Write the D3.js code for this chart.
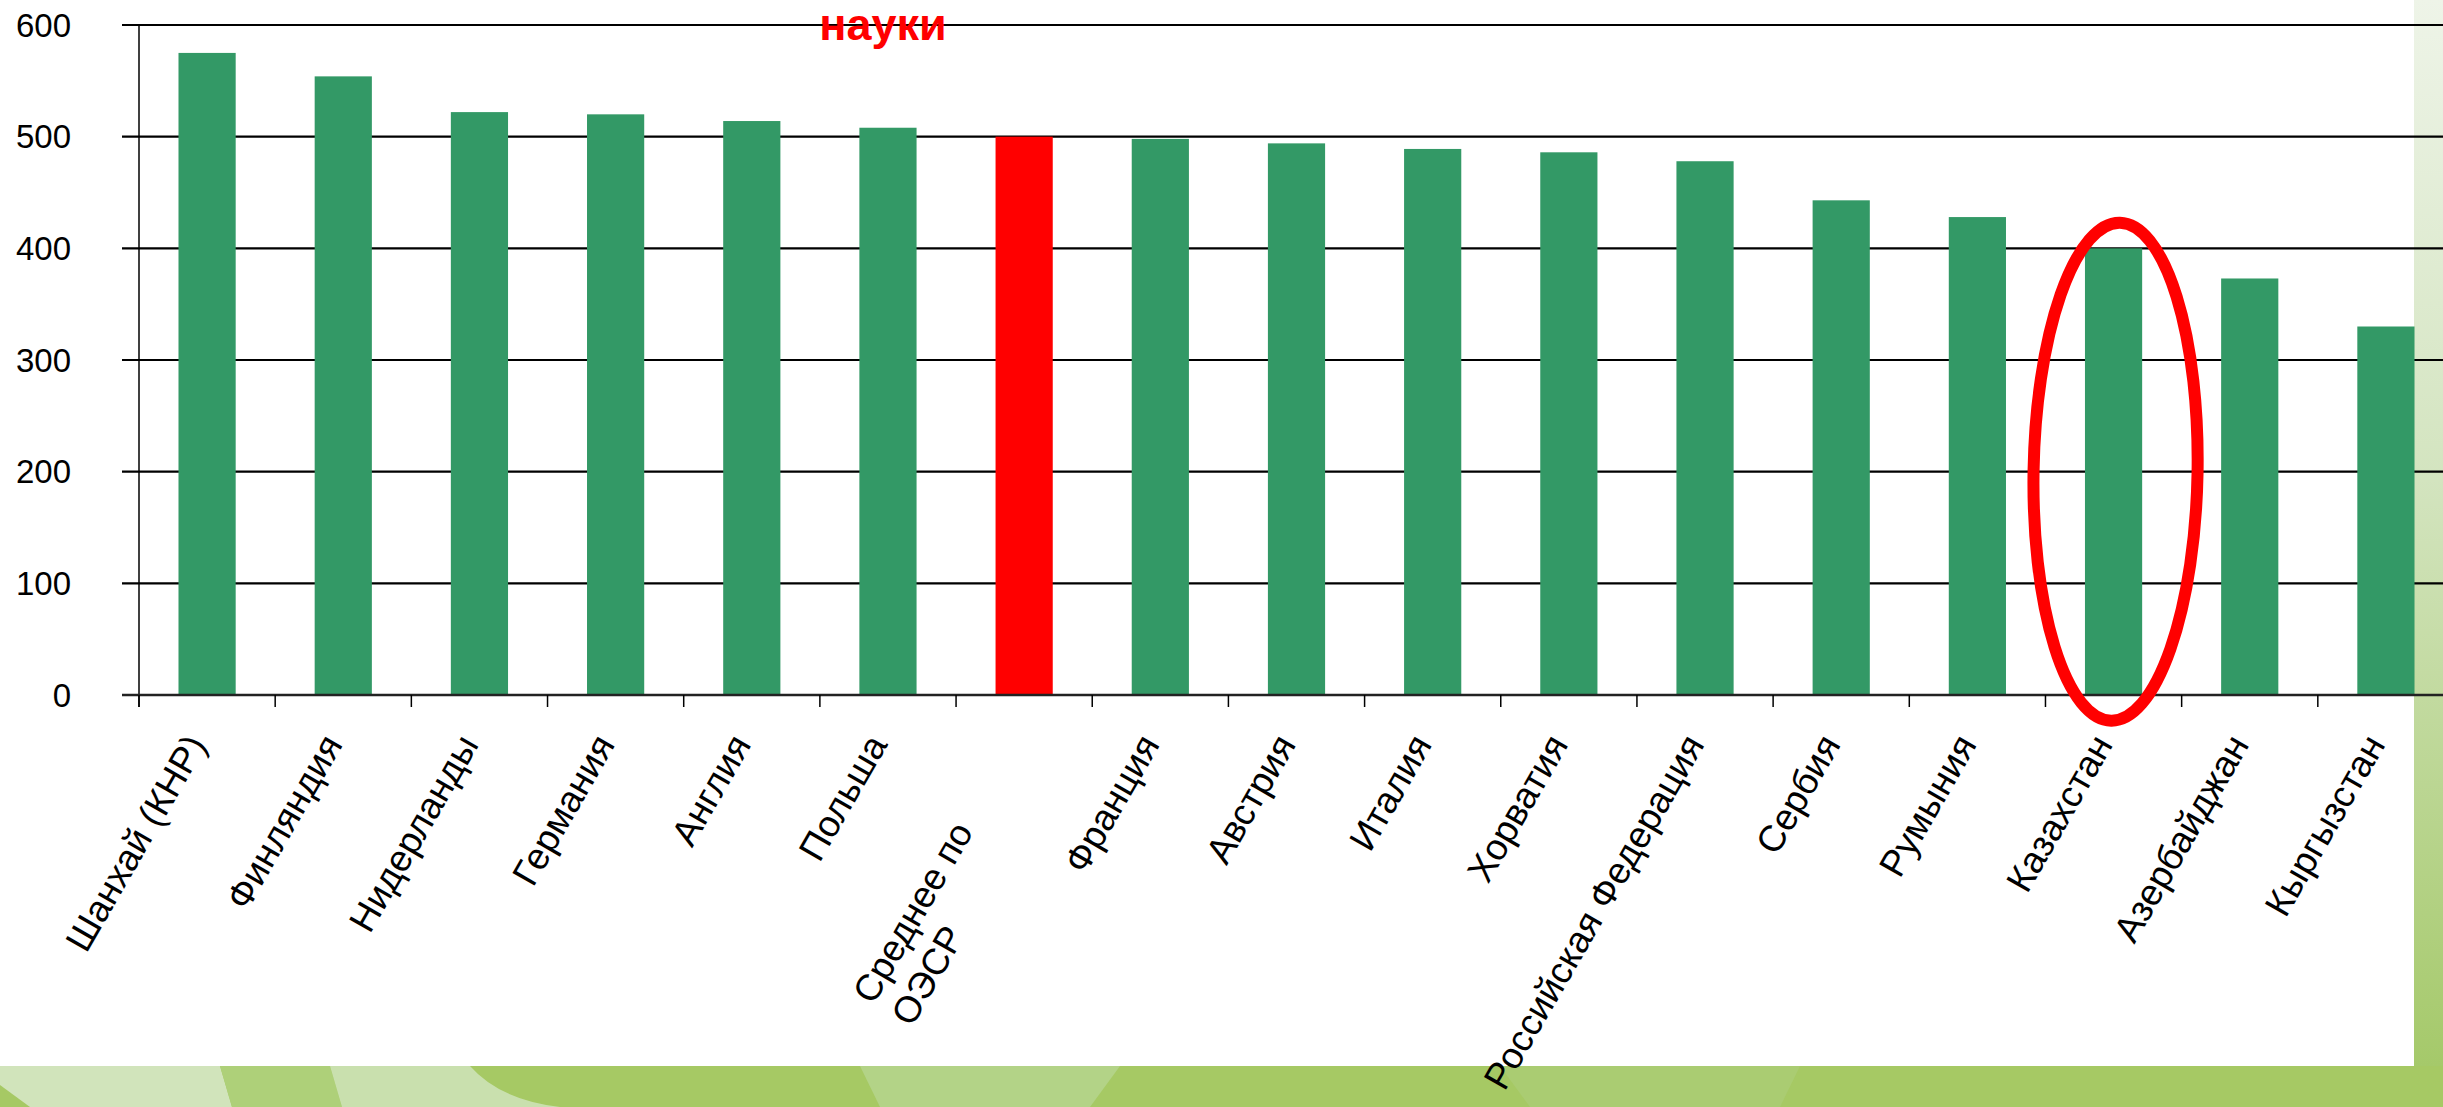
<!DOCTYPE html>
<html>
<head>
<meta charset="utf-8">
<script src="https://cdn.jsdelivr.net/npm/d3@7/dist/d3.min.js"></script>
<style>
  body { margin: 0; overflow: hidden; background: #fff; }
  text { font-family: "Liberation Sans", Arial, sans-serif; }
</style>
</head>
<body>
<div id="chart"></div>
<script>
var countries = ["Шанхай (КНР)", "Финляндия", "Нидерланды", "Германия", "Англия", "Польша",
  "Среднее по\nОЭСР", "Франция", "Австрия", "Италия", "Хорватия", "Российская Федерация",
  "Сербия", "Румыния", "Казахстан", "Азербайджан", "Кыргызстан"];
var scores = [575, 554, 522, 520, 514, 508, 500, 498, 494, 489, 486, 478, 443, 428, 400, 373, 330];
var yTicks = [0, 100, 200, 300, 400, 500, 600];
var average = "Среднее по\nОЭСР";
var marked = "Казахстан";
var title = "науки";

var W = 2443, H = 1107;
var panelW = 2414, panelH = 1066;

var svg = d3.select('#chart').append('svg')
  .attr('width', W)
  .attr('height', H);

// slide background: green texture behind a white panel
var defs = svg.append('defs');
var grad = defs.append('linearGradient').attr('id', 'side')
  .attr('x1', 0).attr('y1', 0).attr('x2', 0).attr('y2', 1);
grad.append('stop').attr('offset', '0%').attr('stop-color', '#eef4e8');
grad.append('stop').attr('offset', '45%').attr('stop-color', '#d3e4bf');
grad.append('stop').attr('offset', '100%').attr('stop-color', '#a5c96a');

svg.append('rect').attr('width', W).attr('height', H).attr('fill', '#a6c964');
svg.append('rect').attr('x', panelW).attr('width', W - panelW).attr('height', panelH).attr('fill', 'url(#side)');
var leaves = svg.append('g');
leaves.append('path').attr('d', 'M0,1066 L220,1066 L232,1107 L30,1107 L0,1085 Z').attr('fill', '#d1e4bb');
leaves.append('path').attr('d', 'M220,1066 L330,1066 L342,1107 L232,1107 Z').attr('fill', '#aed079');
leaves.append('path').attr('d', 'M330,1066 L470,1066 Q500,1100 560,1107 L342,1107 Z').attr('fill', '#c9e0ae');
leaves.append('path').attr('d', 'M860,1066 L1120,1066 L1090,1107 L880,1107 Z').attr('fill', '#b3d387');
leaves.append('path').attr('d', 'M1500,1066 L1800,1066 L1780,1107 L1530,1107 Z').attr('fill', '#aacc72');
svg.append('rect').attr('width', panelW).attr('height', panelH).attr('fill', '#fff');

var margin = { left: 139, top: 25, bottom: 695 };

var x = d3.scaleBand()
  .domain(countries)
  .range([margin.left, 2454])
  .paddingInner(0.58)
  .paddingOuter(0.29);

var y = d3.scaleLinear()
  .domain([0, 600])
  .range([margin.bottom, margin.top]);

// gridlines
svg.append('g').selectAll('line')
  .data(yTicks.filter(function(d){ return d > 0; }))
  .join('line')
    .attr('x1', margin.left - 17)
    .attr('x2', W)
    .attr('y1', function(d){ return y(d); })
    .attr('y2', function(d){ return y(d); })
    .attr('stroke', '#000')
    .attr('stroke-width', 2.2);

// y tick labels
svg.append('g').selectAll('text')
  .data(yTicks)
  .join('text')
    .attr('x', 71)
    .attr('y', function(d){ return y(d); })
    .attr('dy', '0.35em')
    .attr('text-anchor', 'end')
    .style('font-size', '33px')
    .text(function(d){ return d; });

// bars
svg.append('g').selectAll('rect')
  .data(countries)
  .join('rect')
    .attr('x', function(d){ return x(d); })
    .attr('width', x.bandwidth())
    .attr('y', function(d, i){ return y(scores[i]); })
    .attr('height', function(d, i){ return y(0) - y(scores[i]); })
    .attr('fill', function(d){ return d === average ? '#ff0000' : '#339966'; });

// axes
svg.append('line')
  .attr('x1', margin.left).attr('x2', margin.left)
  .attr('y1', margin.top).attr('y2', margin.bottom + 12)
  .attr('stroke', '#000').attr('stroke-width', 1.5);
svg.append('line')
  .attr('x1', margin.left - 17).attr('x2', W)
  .attr('y1', y(0)).attr('y2', y(0))
  .attr('stroke', '#222').attr('stroke-width', 2.5);
svg.append('g').selectAll('line')
  .data(d3.range(countries.length + 1))
  .join('line')
    .attr('x1', function(i){ return margin.left + i * x.step(); })
    .attr('x2', function(i){ return margin.left + i * x.step(); })
    .attr('y1', y(0))
    .attr('y2', y(0) + 12)
    .attr('stroke', '#000')
    .attr('stroke-width', 1.5);

// category labels
var labels = svg.append('g').selectAll('text')
  .data(countries)
  .join('text')
    .attr('transform', function(d){
      return 'translate(' + (x(d) + x.bandwidth() / 2 - 11) + ',738) rotate(-60)';
    })
    .style('font-size', '37px');

labels.each(function(d){
  var t = d3.select(this);
  var lines = d.split('\n');
  if (lines.length === 1) {
    t.attr('text-anchor', 'end')
      .append('tspan').attr('x', 0).attr('dy', '0.35em').text(d);
    return;
  }
  t.attr('text-anchor', 'start');
  var first = t.append('tspan').attr('dy', '0.35em').text(lines[0]);
  var w = first.node().getComputedTextLength();
  first.attr('x', -1.5 * w);
  lines.slice(1).forEach(function(l){
    t.append('tspan').attr('x', -1.5 * w).attr('dy', '1.2em').text(l);
  });
});

// red oval round Kazakhstan
svg.append('ellipse')
  .attr('cx', x(marked) + x.bandwidth() / 2 + 2)
  .attr('cy', y(200))
  .attr('rx', 82)
  .attr('ry', y(-23) - y(200))
  .attr('transform', 'rotate(1,' + (x(marked) + x.bandwidth() / 2 + 2) + ',' + y(200) + ')')
  .attr('fill', 'none')
  .attr('stroke', '#ff0000')
  .attr('stroke-width', 12);

// title remnant
svg.append('text')
  .attr('x', 883)
  .attr('y', 40)
  .attr('text-anchor', 'middle')
  .style('font-size', '45px')
  .style('font-weight', 'bold')
  .attr('fill', '#ff0000')
  .text(title);
</script>
</body>
</html>
